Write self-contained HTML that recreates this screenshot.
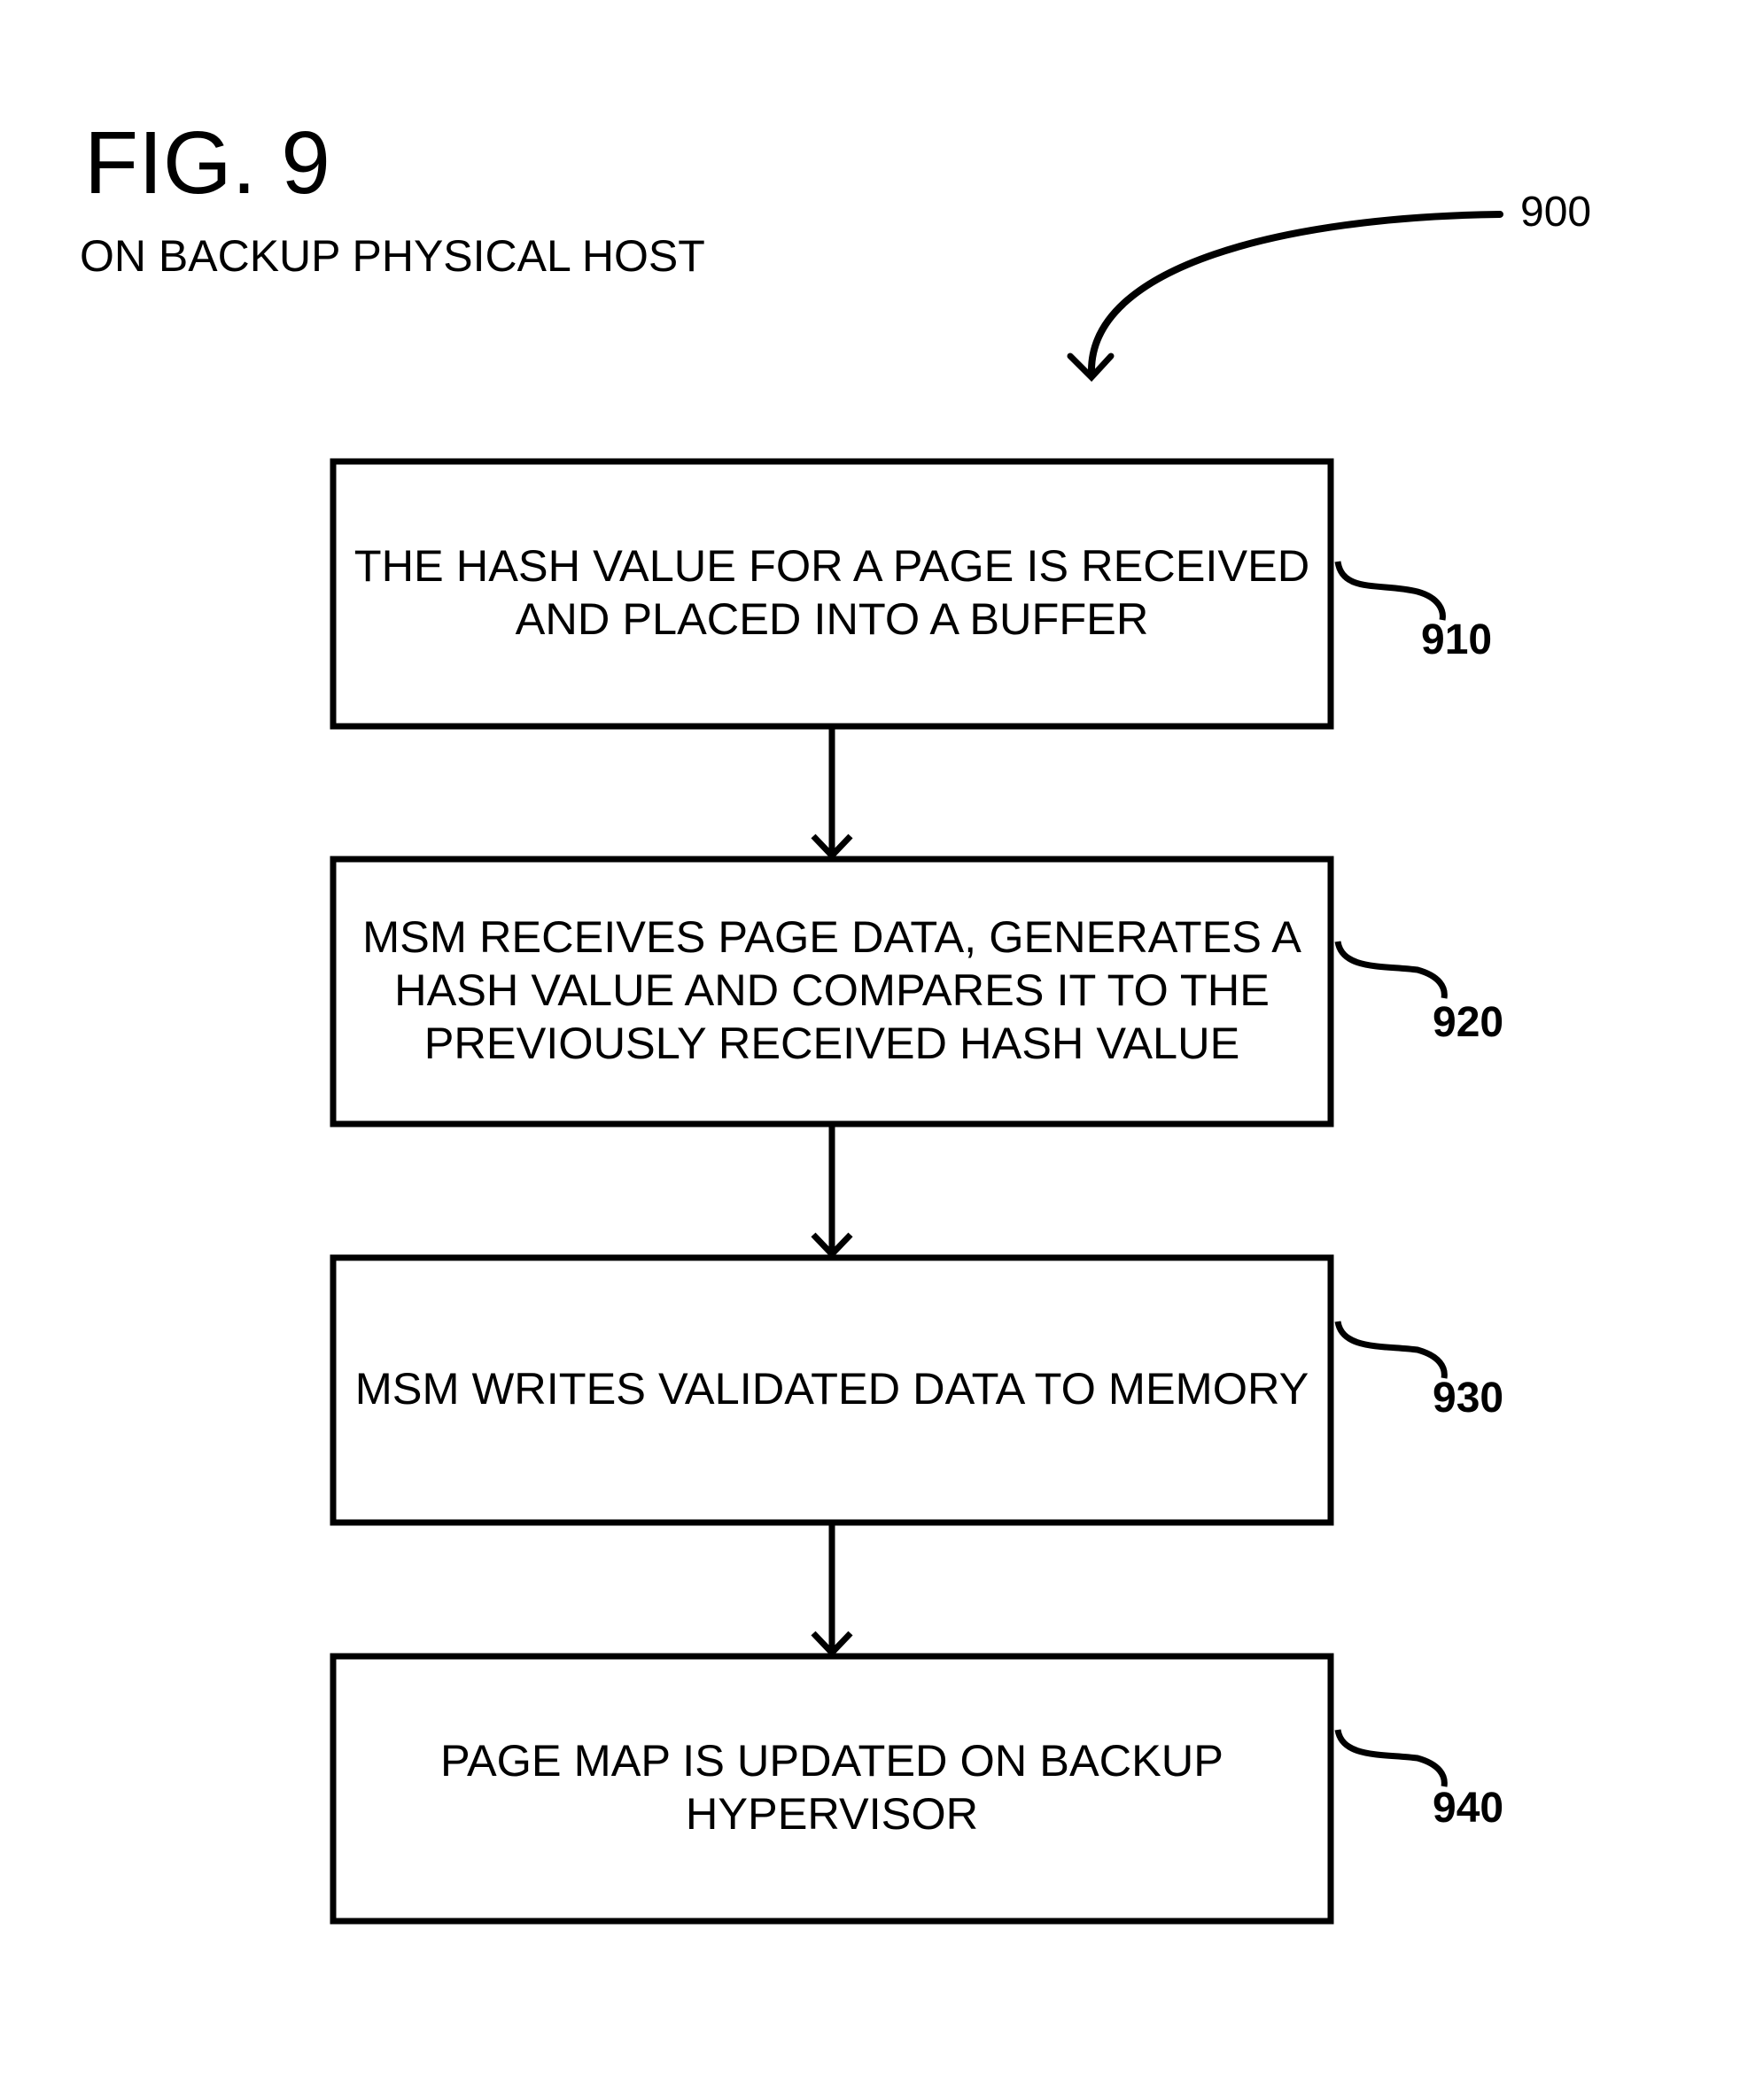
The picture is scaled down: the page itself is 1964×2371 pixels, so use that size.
<!DOCTYPE html>
<html><head><meta charset="utf-8"><style>
html,body{margin:0;padding:0;background:#fff;}
svg{display:block;}
text{font-family:"Liberation Sans",Arial,sans-serif;fill:#000;}
</style></head><body>
<svg width="1964" height="2371" viewBox="0 0 1964 2371" xmlns="http://www.w3.org/2000/svg">
<text x="95" y="218" font-size="100">FIG. 9</text>
<text x="90" y="306" font-size="50">ON BACKUP PHYSICAL HOST</text>
<text x="1716" y="255" font-size="48">900</text>
<path d="M1693,242 C1450,245 1230,300 1232,420" fill="none" stroke="#000" stroke-width="8" stroke-linecap="round"/>
<path d="M1208,402 L1232,426 L1254,402" fill="none" stroke="#000" stroke-width="7" stroke-linecap="round"/>
<g fill="none" stroke="#000" stroke-width="7">
<rect x="376" y="521" width="1126" height="299"/>
<rect x="376" y="970" width="1126" height="299"/>
<rect x="376" y="1420" width="1126" height="299"/>
<rect x="376" y="1870" width="1126" height="299"/>
<line x1="939" y1="820" x2="939" y2="966"/>
<line x1="939" y1="1269" x2="939" y2="1416"/>
<line x1="939" y1="1719" x2="939" y2="1866"/>
<path d="M918,944 L939,966 L960,944"/>
<path d="M918,1394 L939,1416 L960,1394"/>
<path d="M918,1844 L939,1866 L960,1844"/>
<path d="M1510,634 C1515,670 1560,658 1600,668 C1625,675 1630,690 1628,700"/>
<path d="M1510,1063 C1515,1095 1560,1090 1600,1095 C1625,1102 1632,1115 1630,1127"/>
<path d="M1510,1492 C1515,1524 1560,1519 1600,1524 C1625,1531 1632,1544 1630,1556"/>
<path d="M1510,1953 C1515,1985 1560,1980 1600,1985 C1625,1992 1632,2005 1630,2017"/>
</g>
<g font-size="50.5" text-anchor="middle">
<text x="939" y="656">THE HASH VALUE FOR A PAGE IS RECEIVED</text>
<text x="939" y="716">AND PLACED INTO A BUFFER</text>
<text x="939" y="1075">MSM RECEIVES PAGE DATA, GENERATES A</text>
<text x="939" y="1135">HASH VALUE AND COMPARES IT TO THE</text>
<text x="939" y="1195">PREVIOUSLY RECEIVED HASH VALUE</text>
<text x="939" y="1585">MSM WRITES VALIDATED DATA TO MEMORY</text>
<text x="939" y="2005">PAGE MAP IS UPDATED ON BACKUP</text>
<text x="939" y="2065">HYPERVISOR</text>
</g>
<g font-size="48" font-weight="bold">
<text x="1604" y="738">910</text>
<text x="1617" y="1170">920</text>
<text x="1617" y="1594">930</text>
<text x="1617" y="2057">940</text>
</g>
</svg>
</body></html>
